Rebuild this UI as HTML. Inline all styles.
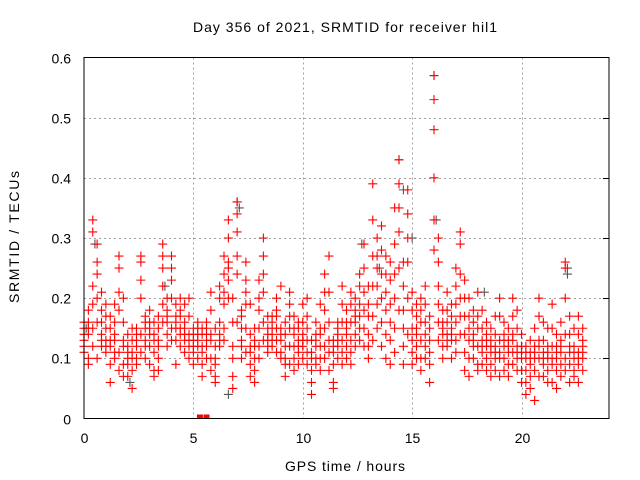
<!DOCTYPE html>
<html><head><meta charset="utf-8"><style>
body{margin:0;background:#fff}
svg{display:block;font-family:"Liberation Sans",sans-serif}
</style></head><body>
<svg id="chart" width="640" height="480" viewBox="0 0 640 480">
<text x="345" y="32" font-size="14" text-anchor="middle" textLength="304" lengthAdjust="spacing" fill="#000">Day 356 of 2021, SRMTID for receiver hil1</text>
<text x="345" y="471" font-size="14" text-anchor="middle" textLength="120" lengthAdjust="spacing" fill="#000">GPS time / hours</text>
<text transform="translate(19,237) rotate(-90)" font-size="14" text-anchor="middle" textLength="132" lengthAdjust="spacing" fill="#000">SRMTID / TECUs</text>
<g id="grid"></g><g id="ticks"></g><g id="black"></g><g id="red"></g>
<rect x="84" y="57.5" width="525" height="361" fill="none" stroke="#000" stroke-width="1"/>
</svg>
<script>
const xTicks=[0,5,10,15,20];
const yTicks=[0,0.1,0.2,0.3,0.4,0.5,0.6];
const yTickLabels=["0","0.1","0.2","0.3","0.4","0.5","0.6"];
const hours=[0.0,0.2,0.4,0.6,0.8,1.0,1.2,1.4,1.6,1.8,2.0,2.2,2.4,2.6,2.8,3.0,3.2,3.4,3.6,3.8,4.0,4.2,4.4,4.6,4.8,5.0,5.2,5.4,5.6,5.8,6.0,6.2,6.4,6.6,6.8,7.0,7.2,7.4,7.6,7.8,8.0,8.2,8.4,8.6,8.8,9.0,9.2,9.4,9.6,9.8,10.0,10.2,10.4,10.6,10.8,11.0,11.2,11.4,11.6,11.8,12.0,12.2,12.4,12.6,12.8,13.0,13.2,13.4,13.6,13.8,14.0,14.2,14.4,14.6,14.8,15.0,15.2,15.4,15.6,15.8,16.0,16.2,16.4,16.6,16.8,17.0,17.2,17.4,17.6,17.8,18.0,18.2,18.4,18.6,18.8,19.0,19.2,19.4,19.6,19.8,20.0,20.2,20.4,20.6,20.8,21.0,21.2,21.4,21.6,21.8,22.0,22.2,22.4,22.6,22.8];
const srmtid=[
[.12,.15,.16,.13,.14,.11],[.10,.14,.16,.18,.15,.09],[.33,.31,.22,.19,.15,.12],[.29,.26,.24,.20,.16,.10],[.18,.14,.12,.16,.21,.13],
[.19,.17,.12,.13,.15,.11],[.06,.09,.13,.15,.17,.12],[.19,.14,.11,.10,.16,.13],[.27,.25,.21,.18,.11,.08],[.20,.16,.13,.09,.07,.12],
[.14,.11,.09,.07,.12,.10],[.05,.08,.10,.13,.15,.11],[.12,.15,.14,.10,.09,.13],[.27,.26,.23,.20,.14,.11],[.17,.15,.13,.12,.16,.10],
[.18,.16,.14,.12,.15,.09],[.08,.11,.13,.16,.14,.07],[.10,.13,.17,.15,.08,.12],[.29,.27,.25,.22,.19,.16],[.18,.20,.16,.14,.12,.17],
[.27,.25,.23,.20,.15,.13],[.17,.19,.15,.13,.09,.16],[.20,.17,.15,.14,.12,.18],[.19,.16,.13,.11,.15,.14],[.20,.17,.12,.10,.14,.13],
[.13,.11,.15,.09,.12,.14],[.16,.14,.12,.10,.13,.15],[.09,.07,.12,.15,.11,.14],[.16,.13,.10,.15,.12,.14],[.21,.18,.14,.10,.13,.08],
[.06,.07,.10,.12,.15,.09],[.14,.16,.20,.22,.12,.13],[.27,.24,.21,.19,.15,.13],[.33,.30,.26,.25,.23,.20],[.20,.16,.12,.07,.05,.10],
[.36,.34,.31,.27,.24,.16],[.17,.15,.12,.10,.13,.18],[.26,.23,.21,.19,.15,.11],[.19,.14,.11,.09,.07,.12],[.13,.10,.08,.06,.12,.15],
[.23,.20,.18,.15,.12,.10],[.30,.27,.24,.21,.16,.13],[.17,.15,.13,.11,.14,.12],[.16,.14,.12,.17,.13,.15],[.20,.18,.17,.15,.13,.11],
[.22,.15,.13,.11,.10,.14],[.12,.10,.09,.07,.14,.16],[.21,.19,.17,.15,.12,.09],[.17,.14,.12,.10,.08,.15],[.15,.13,.11,.09,.12,.16],
[.19,.16,.14,.12,.10,.13],[.20,.17,.13,.11,.15,.09],[.13,.10,.08,.06,.04,.11],[.16,.14,.12,.10,.09,.13],[.19,.15,.12,.10,.08,.14],
[.24,.21,.18,.15,.12,.10],[.27,.21,.16,.11,.08,.13],[.13,.11,.09,.06,.05,.12],[.16,.14,.12,.10,.15,.13],[.22,.19,.16,.13,.11,.09],
[.18,.15,.12,.10,.14,.16],[.21,.19,.16,.13,.11,.09],[.20,.18,.16,.14,.12,.17],[.24,.22,.19,.17,.15,.13],[.29,.25,.21,.18,.15,.12],
[.22,.19,.17,.14,.12,.10],[.39,.33,.27,.22,.17,.13],[.30,.27,.25,.22,.19,.15],[.32,.28,.24,.20,.16,.12],[.27,.24,.21,.18,.14,.10],
[.26,.23,.19,.16,.13,.09],[.35,.29,.24,.20,.15,.11],[.43,.39,.35,.31,.25,.18],[.26,.22,.18,.15,.12,.09],[.38,.34,.30,.26,.20,.14],
[.21,.18,.15,.13,.11,.09],[.19,.17,.15,.12,.10,.14],[.20,.18,.16,.13,.10,.08],[.22,.19,.16,.14,.12,.10],[.17,.15,.13,.11,.06,.09],
[.57,.53,.48,.40,.33,.28],[.30,.26,.22,.19,.16,.13],[.18,.16,.14,.12,.10,.15],[.21,.18,.16,.14,.13,.12],[.19,.17,.15,.13,.10,.14],
[.25,.22,.19,.16,.13,.11],[.31,.29,.24,.20,.17,.14],[.23,.20,.17,.14,.11,.08],[.20,.17,.15,.13,.10,.07],[.18,.16,.14,.12,.10,.13],
[.21,.17,.15,.12,.09,.08],[.18,.15,.13,.11,.09,.12],[.16,.14,.12,.10,.08,.13],[.15,.13,.11,.09,.07,.12],[.17,.14,.12,.10,.08,.11],
[.20,.17,.13,.10,.07,.11],[.16,.14,.12,.10,.08,.13],[.15,.13,.11,.09,.07,.12],[.20,.17,.14,.11,.09,.13],[.18,.15,.12,.10,.08,.11],
[.14,.12,.10,.08,.06,.11],[.12,.10,.08,.06,.04,.11],[.13,.11,.09,.07,.05,.10],[.15,.12,.10,.08,.03,.11],[.20,.17,.13,.10,.07,.12],
[.16,.13,.11,.09,.07,.10],[.15,.12,.10,.08,.06,.11],[.19,.15,.12,.09,.06,.10],[.14,.12,.10,.08,.05,.11],[.16,.13,.11,.09,.07,.12],
[.26,.25,.20,.14,.10,.08],[.17,.14,.11,.09,.06,.12],[.15,.12,.10,.08,.07,.11],[.17,.14,.11,.09,.06,.10],[.15,.13,.11,.10,.08,.12]];
const dropHours=[5.3,5.6];
const dropValues=[0,0];
const blackHours=[0.1,0.5,2.1,3.7,6.6,7.0,7.1,12.7,13.5,14.4,14.6,15.0,16.0,16.1,18.3,22.1,22.1];
const blackValues=[0.15,0.29,0.06,0.22,0.04,0.36,0.35,0.29,0.25,0.43,0.38,0.30,0.57,0.33,0.21,0.25,0.24];

const X0=84,X1=609,Y0=418.5,Y1=57.5,XMAX=24,YMAX=0.6;
const xs=h=>X0+(h/XMAX)*(X1-X0);
const ys=v=>Y0-(v/YMAX)*(Y0-Y1);
const NS="http://www.w3.org/2000/svg";
function mk(tag,attrs,parent){const e=document.createElementNS(NS,tag);for(const k in attrs)e.setAttribute(k,attrs[k]);parent.appendChild(e);return e;}
const grid=document.getElementById('grid'),ticks=document.getElementById('ticks');
xTicks.forEach(t=>{
  const x=Math.round(xs(t))+0.5;
  if(t>0){const g=mk('line',{x1:x,x2:x,y1:Y1,y2:Y0,stroke:'#a0a0a0','stroke-dasharray':'2,3'},grid);
  
  }
  const lb=mk('text',{x:x,y:443,'font-size':14,'text-anchor':'middle',fill:'#000'},ticks);lb.textContent=t;
  
  
});
yTicks.forEach((t,i)=>{
  const y=Math.round(ys(t))+0.5;
  if(t>0&&t<0.6){const g=mk('line',{x1:X0,x2:X1,y1:y,y2:y,stroke:'#a0a0a0','stroke-dasharray':'2,3'},grid);
  
  
  const tk=mk('line',{x1:X1-6,x2:X1,y1:y,y2:y,stroke:'#000'},ticks);
  
  }
  const lb=mk('text',{x:71,y:y+5,'font-size':14,'text-anchor':'end',fill:'#000'},ticks);lb.textContent=yTickLabels[i];
  
  
});
function cross(h,v,color,g,name){
  const x=xs(h),y=ys(v);
  const p=mk('path',{d:`M${x-4.5},${y}H${x+4.5}M${x},${y-4.5}V${y+4.5}`,stroke:color,'stroke-width':1.1,fill:'none'},g);
  
  
}
const blk=document.getElementById('black'),red=document.getElementById('red');
blackHours.forEach((h,i)=>cross(h,blackValues[i],'#555',blk,'black-point'));
hours.forEach((h,i)=>srmtid[i].forEach(v=>cross(h,v,'#ff0000',red,'srmtid-point')));
dropHours.forEach((h,i)=>{
  const r=mk('rect',{x:xs(h)-3,y:ys(dropValues[i])-4,width:6,height:4,fill:'#ff0000'},red);
  
  
});
</script>
</body></html>
